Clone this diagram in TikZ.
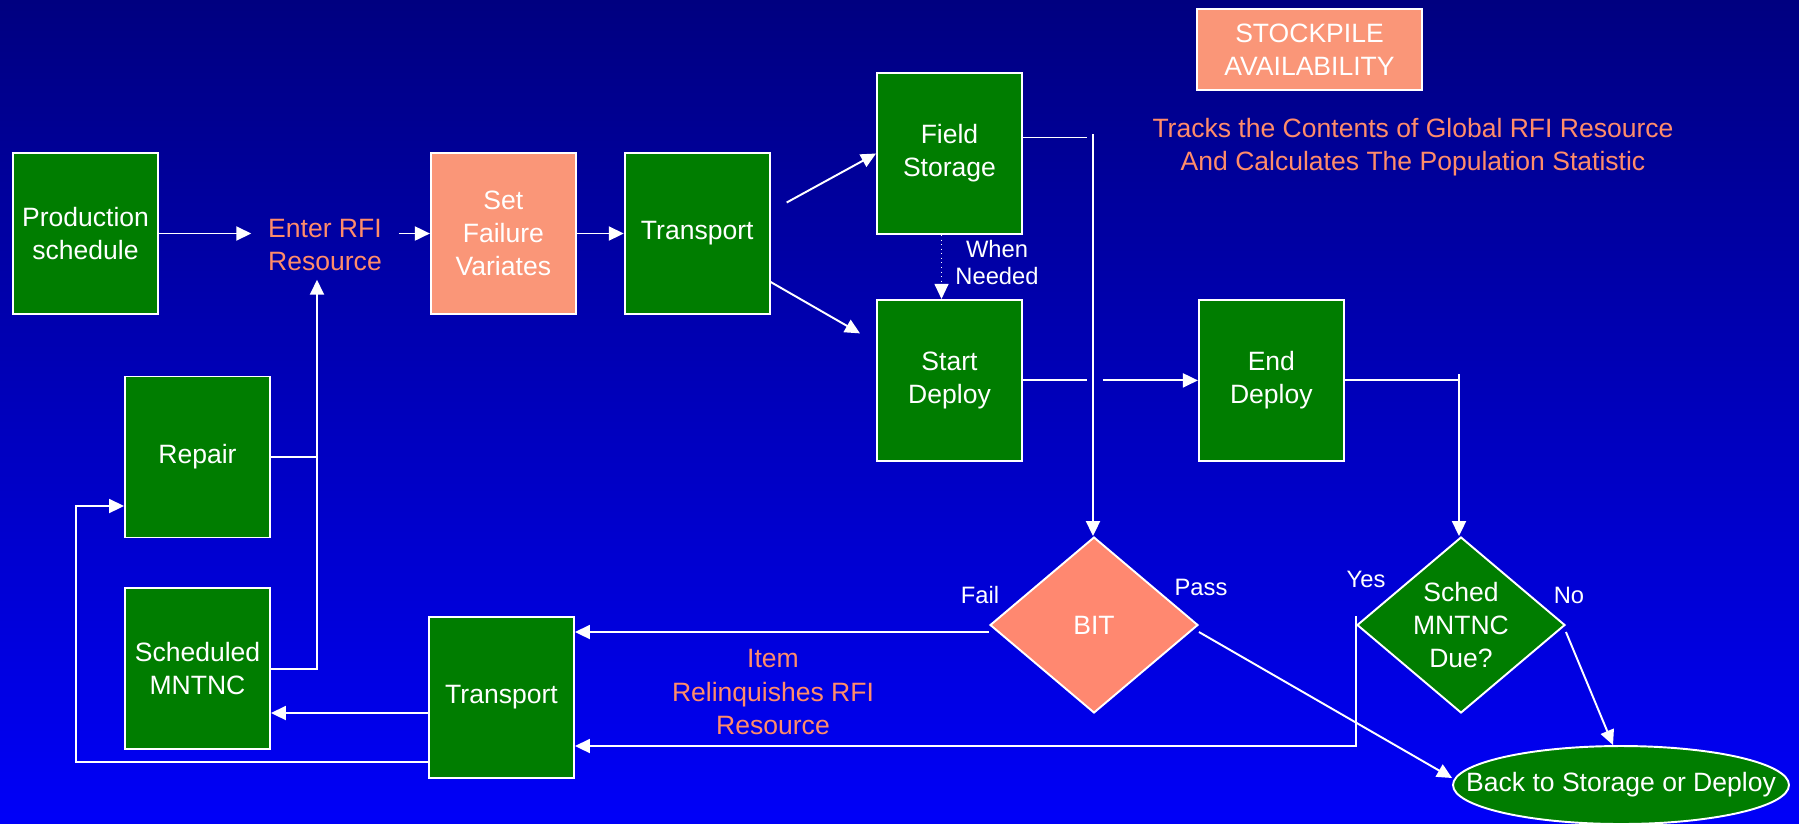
\documentclass[tikz,border=0pt]{standalone}
\usepackage{fontspec}
\setmainfont{Liberation Sans}
\usepackage{xcolor}
\usetikzlibrary{arrows.meta, positioning, calc, shapes.geometric}

\definecolor{boxgreen}{RGB}{0,125,0}
\definecolor{boxsalmon}{RGB}{250,150,120}
\definecolor{bitsalmon}{RGB}{255,136,112}
\definecolor{notesalmon}{RGB}{255,140,105}
\definecolor{skytop}{RGB}{0,0,128}
\definecolor{skybottom}{RGB}{0,0,248}

\begin{document}
\begin{tikzpicture}[
		x=0.02cm, y=-0.02cm,
		inner sep=0pt,
		line width=1.1pt,
		white,
		>={Triangle[length=0.3cm,width=0.28cm]},
		font=\fontsize{15.1}{18.8}\selectfont,
		greenbox/.style={
				rectangle,
				minimum width = 2.9cm,
				minimum height = 3.22cm,
				align=center,
				draw=white,
				fill=boxgreen,
				text=white
			},
		salmonbox/.style={
				greenbox,
				fill=boxsalmon
			},
		decision/.style={
				diamond,
				aspect=1.18,
				minimum width = 4.16cm,
				minimum height = 3.52cm,
				align=center,
				draw=white,
				text=white
			},
		notetext/.style={
				align=center,
				text=notesalmon
			},
		smalltext/.style={
				align=center,
				text=white,
				font=\fontsize{13.5}{15.9}\selectfont
			},
		]

		\useasboundingbox (0,0) rectangle (1799,823);
		\fill[top color=skytop, bottom color=skybottom] (0,0) rectangle (1799,823);

		% entry row
		\node[greenbox] (prod) at (85.5,233.5) {Production\\schedule};
		\node[salmonbox, right=5.42cm of prod] (setfail) {Set\\Failure\\Variates};
		\node[greenbox, right=0.94cm of setfail] (transA) {Transport};
		\node[notetext, inner xsep=0.32cm, inner ysep=0.16cm] (enter) at (325,245) {Enter RFI\\Resource};

		% storage and deployment
		\node[greenbox] (field) at (949.5,153.5) {Field\\Storage};
		\node[greenbox, below=1.28cm of field] (startdeploy) {Start\\Deploy};
		\node[greenbox, right=3.5cm of startdeploy] (enddeploy) {End\\Deploy};

		% maintenance side
		\node[greenbox] (repair) at (197.5,457) {Repair};
		\node[greenbox, below=0.98cm of repair] (sched) {Scheduled\\MNTNC};
		\node[greenbox] (transB) at (501.5,697.5) {Transport};

		% decisions
		\node[decision, fill=bitsalmon] (bit) at (1094,625) {BIT};
		\node[decision, fill=boxgreen] (due) at (1461,625) {Sched\\MNTNC\\Due?};
		\node[ellipse, draw=white, fill=boxgreen, minimum width=6.72cm, minimum height=1.56cm] (back) at (1621,785) {\makebox[0pt]{Back to Storage or Deploy}};

		% stockpile note
		\node[salmonbox, minimum width=4.5cm, minimum height=1.62cm] (stock) at (1309.5,49.5) {STOCKPILE\\AVAILABILITY};
		\node[notetext] (tracks) at (1413,147.5) {Tracks the Contents of Global RFI Resource\\And Calculates The Population Statistic};

		% labels
		\node[smalltext] (needed) at (997,262.5) {When\\Needed};
		\node[smalltext] (fail) at (980,595) {Fail};
		\node[smalltext] (pass) at (1201,587) {Pass};
		\node[smalltext] (yes) at (1366,579) {Yes};
		\node[smalltext] (no) at (1569,595) {No};
		\node[notetext] (item) at (773,692) {Item\\Relinquishes RFI\\Resource};

		\draw[->] (prod.east) -- (prod.east -| enter.west);
		\draw[->] (setfail.west -| enter.east) -- (setfail.west);
		\draw[->] (setfail) -- (transA);
		\draw[->] ($(transA.east)+(16,-31)$) -- (field.west);
		\draw[->] ($(transA.east)+(0,48.5)$) -- ($(startdeploy.west)+(-16,-47)$);
		\draw[->, dotted, line width=0.6pt] ($(field.south)+(-8,0)$) -- ($(startdeploy.north)+(-8,0)$);

		% lines down to the decisions
		\coordinate (busBIT) at (1093,134);
		\draw ($(field.east)+(0,-16)$) -- ++(64,0);
		\draw[->] (busBIT) -- (busBIT |- bit.north);
		\draw (startdeploy.east) -- ++(64,0);
		\draw[->] ($(startdeploy.east)+(80,0)$) -- (enddeploy.west);
		\coordinate (busDue) at (1459,374);
		\draw (enddeploy.east) -- ++(113,0);
		\draw[->] (busDue) -- (busDue |- due.north);

		% outcomes
		\coordinate (failout) at ($(bit.west)+(0,7)$);
		\draw[->] (failout) -- (failout -| transB.east);
		\draw[->] ($(bit.east)+(0,7)$) -- ($(back.west)+(0,-7)$);
		\draw[->] ($(due.west)+(0,-9)$) |- ($(transB.east)+(0,48.5)$);
		\draw[->] ($(due.east)+(0,7)$) -- ($(back.north)+(-8,0)$);

		% back through maintenance
		\coordinate (toSched) at ($(transB.west)+(0,15.5)$);
		\draw[->] (toSched) -- (toSched -| sched.east);
		\draw[->] ($(transB.west)+(0,64.5)$) -- ++(-352,0) |- ($(repair.west)+(0,49)$);
		\coordinate (jct) at (317,457);
		\draw (repair.east) -- (jct);
		\draw[->] (sched.east) -| (jct |- enter.south);

	\end{tikzpicture}
\end{document}
